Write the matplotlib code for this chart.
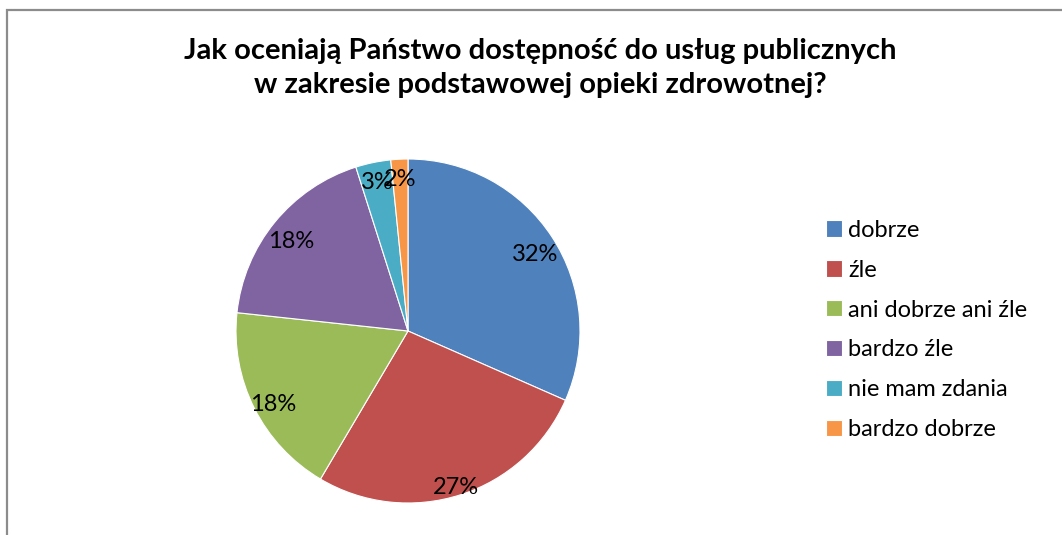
import matplotlib
matplotlib.use("Agg")
import numpy as np
import matplotlib.pyplot as plt
from matplotlib.patches import Rectangle
from matplotlib.transforms import offset_copy

categories = ["dobrze", "źle", "ani dobrze ani źle", "bardzo źle", "nie mam zdania", "bardzo dobrze"]
values = [31.6, 26.9, 18.2, 18.4, 3.3, 1.6]
colors = ["#4F81BD", "#C0504D", "#9BBB59", "#8064A2", "#4BACC6", "#F79646"]
title = "Jak oceniają Państwo dostępność do usług publicznych\nw zakresie podstawowej opieki zdrowotnej?"

plt.rcParams['font.family'] = ['Lato', 'DejaVu Sans']

W, H = 1062, 535
fig = plt.figure(figsize=(W/100, H/100), dpi=100)
fig.patch.set_facecolor("white")

# chart border (extends past right and bottom edges)
fig.add_artist(Rectangle((7/W, -0.1), 1.2, (H-10)/H + 0.1, transform=fig.transFigure,
                         fill=False, edgecolor="#8c8c8c", linewidth=1.6))

cx, cy, r = 408, 331, 172
ax = fig.add_axes([(cx - r)/W, (H - cy - r)/H, 2*r/W, 2*r/H])
wedges, texts, autotexts = ax.pie(values, colors=colors, startangle=90, counterclock=False,
                                  autopct='%1.0f%%', pctdistance=0.88, radius=1,
                                  wedgeprops=dict(linewidth=0.8, edgecolor="white"),
                                  textprops=dict(fontsize=17, color="black"))
ax.set_xlim(-1, 1)
ax.set_ylim(-1, 1)
ax.set_aspect('equal')
ax.axis('off')

# label placement (Excel "best fit"-like)
label_r = [0.88, 0.92, 0.88, 0.88, 0.88, 0.88]
label_dy = [-6, -6, -6, -6, 0, 0]
for w, t, lr, dy in zip(wedges, autotexts, label_r, label_dy):
    th = np.deg2rad((w.theta1 + w.theta2) / 2)
    t.set_position((lr * np.cos(th), lr * np.sin(th)))
    t.set_transform(offset_copy(ax.transData, fig=fig, x=0, y=dy, units='dots'))

fig.text(540/W, 1 - 68/H, title, ha='center', va='center', fontsize=21,
         fontweight='bold', linespacing=1.42)

leg = fig.legend(wedges, categories, loc='center left',
                 bbox_to_anchor=(826/W, 1 - 330/H), frameon=False,
                 fontsize=17, handlelength=0.68, handleheight=0.68,
                 handletextpad=0.25, labelspacing=0.8, borderpad=0, borderaxespad=0)

fig.savefig("out.png", dpi=100, facecolor="white")
